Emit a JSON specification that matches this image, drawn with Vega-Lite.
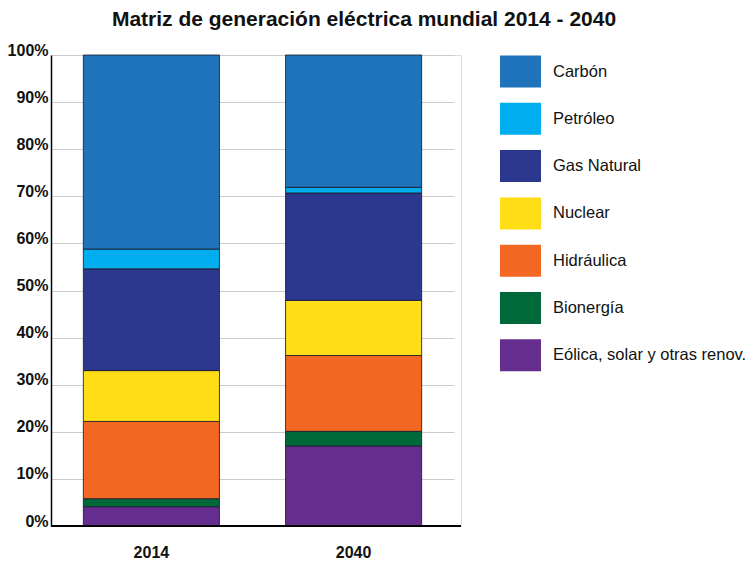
{
  "$schema": "https://vega.github.io/schema/vega-lite/v6.json",
  "width": 410,
  "height": 471,
  "autosize": {"type": "none"},
  "padding": {"left": 51, "top": 55, "right": 287, "bottom": 35},
  "background": "white",
  "title": {
    "text": "Matriz de generación eléctrica mundial 2014 - 2040",
    "font": "Liberation Sans",
    "fontSize": 21,
    "fontWeight": "bold",
    "color": "#111111",
    "anchor": "middle",
    "baseline": "alphabetic",
    "dx": 108,
    "dy": 21,
    "offset": 16
  },
  "data": {
    "values": [
      {"anio": "2014", "fuente": "Eólica, solar y otras renov.", "orden": 1, "pct": 4.1},
      {"anio": "2014", "fuente": "Bionergía", "orden": 2, "pct": 1.7},
      {"anio": "2014", "fuente": "Hidráulica", "orden": 3, "pct": 16.4},
      {"anio": "2014", "fuente": "Nuclear", "orden": 4, "pct": 10.8},
      {"anio": "2014", "fuente": "Gas Natural", "orden": 5, "pct": 21.6},
      {"anio": "2014", "fuente": "Petróleo", "orden": 6, "pct": 4.2},
      {"anio": "2014", "fuente": "Carbón", "orden": 7, "pct": 41.2},
      {"anio": "2040", "fuente": "Eólica, solar y otras renov.", "orden": 1, "pct": 17.0},
      {"anio": "2040", "fuente": "Bionergía", "orden": 2, "pct": 3.1},
      {"anio": "2040", "fuente": "Hidráulica", "orden": 3, "pct": 16.1},
      {"anio": "2040", "fuente": "Nuclear", "orden": 4, "pct": 11.7},
      {"anio": "2040", "fuente": "Gas Natural", "orden": 5, "pct": 22.8},
      {"anio": "2040", "fuente": "Petróleo", "orden": 6, "pct": 1.2},
      {"anio": "2040", "fuente": "Carbón", "orden": 7, "pct": 28.1}
    ]
  },
  "layer": [
    {
      "mark": {"type": "bar", "stroke": "#1c1c2e", "strokeWidth": 1, "strokeOpacity": 0.85},
      "encoding": {
        "x": {
          "field": "anio",
          "type": "nominal",
          "scale": {"range": [0, 403], "paddingInner": 0.327, "paddingOuter": 0.16},
          "axis": {
            "title": null,
            "labelAngle": 0,
            "labelFont": "Liberation Sans",
            "labelFontSize": 16,
            "labelFontWeight": "bold",
            "labelColor": "#111111",
            "labelPadding": 18,
            "ticks": false,
            "domain": false
          }
        },
        "y": {
          "field": "pct",
          "type": "quantitative",
          "stack": "zero",
          "scale": {"domain": [0, 100], "nice": false},
          "axis": {
            "title": null,
            "values": [0, 10, 20, 30, 40, 50, 60, 70, 80, 90, 100],
            "labelExpr": "datum.value + '%'",
            "labelFont": "Liberation Sans",
            "labelFontSize": 16,
            "labelFontWeight": "bold",
            "labelColor": "#111111",
            "labelBaseline": "alphabetic",
            "labelPadding": 3,
            "ticks": false,
            "domainColor": "#000000",
            "domainWidth": 1.5,
            "grid": true,
            "gridColor": "#cccccc",
            "gridWidth": 1
          }
        },
        "order": {"field": "orden", "type": "quantitative"},
        "color": {
          "field": "fuente",
          "type": "nominal",
          "scale": {
            "domain": ["Carbón", "Petróleo", "Gas Natural", "Nuclear", "Hidráulica", "Bionergía", "Eólica, solar y otras renov."],
            "range": ["#1f73ba", "#00aeef", "#2c388e", "#ffdd17", "#f26722", "#00693a", "#652d8e"]
          },
          "legend": {
            "title": null,
            "orient": "none",
            "legendX": 449,
            "legendY": -4,
            "padding": 0,
            "symbolType": "M-1,-0.78H1V0.78H-1Z",
            "symbolSize": 1681,
            "symbolStrokeWidth": 0,
            "symbolOpacity": 1,
            "labelFont": "Liberation Sans",
            "labelFontSize": 16.5,
            "labelColor": "#111111",
            "labelOffset": 12,
            "labelLimit": 300,
            "rowPadding": 10.3
          }
        }
      }
    },
    {
      "mark": {"type": "rule", "color": "#000000", "strokeWidth": 1.5},
      "encoding": {"y": {"datum": 0}}
    }
  ]
}
